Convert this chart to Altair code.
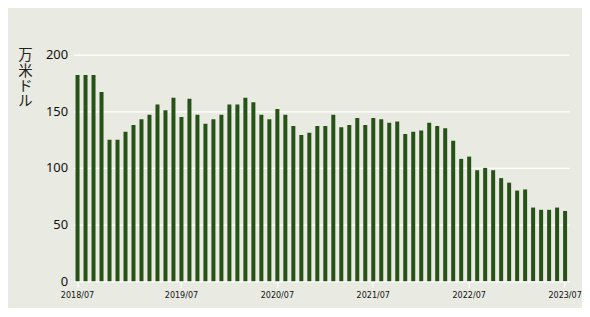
import altair as alt
import pandas as pd

values = [182, 182, 182, 167, 125, 125, 132, 138, 143, 147, 156, 151, 162, 145, 161, 147,
          139, 143, 147, 156, 156, 162, 158, 147, 143, 152, 147, 137, 129, 131, 137, 137,
          147, 136, 138, 144, 138, 144, 143, 140, 141, 130, 132, 133, 140, 137, 135, 124,
          108, 110, 98, 100, 98, 91, 87, 80, 81, 65, 63, 63, 65, 62]
tick_idx = [0, 13, 25, 37, 49, 61]
tick_labels = ["2018/07", "2019/07", "2020/07", "2021/07", "2022/07", "2023/07"]
y_title = ["万", "米", "ド", "ル"]

df = pd.DataFrame({"idx": list(range(len(values))), "value": values})

label_expr = " : ".join(f"datum.value == {i} ? '{l}'" for i, l in zip(tick_idx, tick_labels)) + " : ''"

chart = alt.Chart(df).mark_bar(color="#245315").encode(
    x=alt.X("idx:O",
            scale=alt.Scale(paddingInner=0.5, paddingOuter=0.25),
            axis=alt.Axis(values=tick_idx, labelExpr=label_expr, title=None,
                          labelAngle=0, domain=False, ticks=True, tickColor="white",
                          tickSize=6, tickWidth=1.5, labelPadding=3,
                          labelFont="DejaVu Sans Condensed, Roboto Condensed, Roboto, sans-serif",
                          labelFontSize=9,
                          labelColor="#111111", grid=False)),
    y=alt.Y("value:Q",
            scale=alt.Scale(domain=[0, 200]),
            axis=alt.Axis(values=[0, 50, 100, 150, 200], title=y_title, titleAngle=0,
                          titleAlign="center", titleBaseline="top", titleX=-49, titleY=-6,
                          titleFont="Noto Sans CJK JP", titleFontSize=14.5,
                          titleFontWeight="normal", titleLineHeight=15.5, titleColor="#222222",
                          labelFont="Noto Sans", labelFontSize=13, labelColor="#111111",
                          labelPadding=6, domain=False, ticks=False,
                          grid=True, gridColor="white", gridWidth=1.2)),
).properties(
    width=499,
    height=228,
    background="#e9ebe3",
    autosize=alt.AutoSizeParams(type="none"),
    padding={"left": 66, "top": 46, "right": 13, "bottom": 26},
).configure_view(stroke=None)

chart.save("out.html", embed_options={"renderer": "svg", "actions": False})
